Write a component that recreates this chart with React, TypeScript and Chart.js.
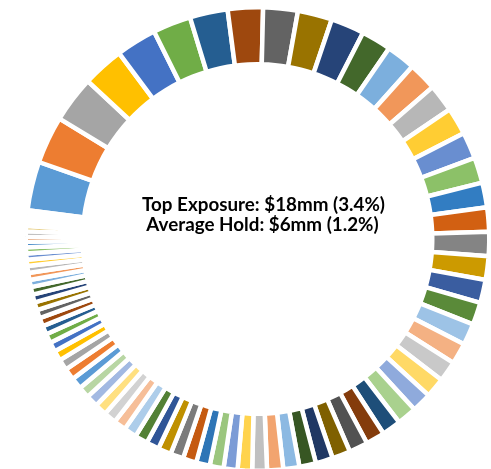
import React, { useEffect, useRef } from "react";
import { Chart, registerables } from "chart.js";

Chart.register(...registerables);

// Exposure per holding, $mm, sorted descending
const exposures: number[] = [
  18.0, 17.4, 17.0, 15.2, 14.9, 14.0, 13.9, 12.9, 12.7, 12.6,
  12.3, 11.0, 10.7, 10.4, 10.2, 10.0, 9.7, 9.4, 9.1, 8.9,
  8.9, 8.6, 8.5, 8.2, 7.9, 7.8, 7.5, 7.3, 7.2, 7.2,
  7.0, 6.9, 6.9, 6.7, 6.3, 6.1, 5.9, 5.9, 5.4, 5.3,
  5.1, 5.1, 5.0, 5.0, 4.8, 4.8, 4.7, 4.7, 4.7, 4.5,
  4.5, 4.4, 4.4, 4.2, 4.2, 4.2, 4.0, 3.7, 3.5, 3.4,
  3.2, 3.1, 3.1, 2.9, 2.9, 2.8, 2.6, 2.6, 2.5, 2.3,
  2.3, 2.2, 2.0, 1.9, 1.9, 1.9,
  1.3, 1.2, 0.9, 0.7, 0.6, 0.6, 0.4,
];

const holdings: string[] = exposures.map((_, i) => `Holding ${i + 1}`);

// Office-style series colour cycle
const palette: string[] = [
  "#5B9BD5", "#ED7D31", "#A5A5A5", "#FFC000", "#4472C4", "#70AD47",
  "#255E91", "#9E480E", "#636363", "#997300", "#264478", "#43682B",
  "#7CAFDD", "#F1975A", "#B7B7B7", "#FFCD33", "#698ED0", "#8CC168",
  "#327DC2", "#D26012", "#848484", "#CC9A00", "#3A5DA0", "#5A8A39",
  "#9DC3E6", "#F4B183", "#C9C9C9", "#FFD966", "#8FAADC", "#A9D18E",
  "#1E4E79", "#843C0C", "#525252", "#7F6000", "#203864", "#375623",
  "#8CB9E2", "#F2A46F", "#C0C0C0", "#FFD34D", "#7C9CD6", "#9BC67E",
  "#2E75B6", "#C55A11", "#7B7B7B", "#BF9000", "#2F5597", "#538135",
  "#ADCDEA", "#F6BE98", "#D2D2D2", "#FFE080", "#A2B9E2", "#B8D6A3",
];

const total = exposures.reduce((a, b) => a + b, 0);
const top = Math.max(...exposures);
const avg = total / exposures.length;
const centerLines: string[] = [
  `Top Exposure: $${Math.round(top)}mm (${((top / total) * 100).toFixed(1)}%)`,
  `Average Hold: $${Math.round(avg)}mm (${((avg / total) * 100).toFixed(1)}%)`,
];

const centerTextPlugin = {
  id: "centerText",
  afterDraw(chart: any) {
    const { ctx } = chart;
    const arc = chart.getDatasetMeta(0).data[0];
    if (!arc) return;
    const cx = arc.x;
    const cy = arc.y;
    ctx.save();
    ctx.fillStyle = "#000000";
    ctx.textAlign = "center";
    ctx.textBaseline = "alphabetic";
    let size = 20;
    ctx.font = `bold ${size}px Lato, "Open Sans", sans-serif`;
    const w = ctx.measureText(centerLines[0]).width;
    size = (size * 243) / w;
    ctx.font = `bold ${size}px Lato, "Open Sans", sans-serif`;
    ctx.fillText(centerLines[0], cx + 6, cy - 28);
    ctx.fillText(centerLines[1], cx + 5, cy - 8);
    ctx.restore();
  },
};

export default function App() {
  const ref = useRef<HTMLCanvasElement | null>(null);

  useEffect(() => {
    if (!ref.current) return;
    const chart = new Chart(ref.current, {
      type: "doughnut",
      data: {
        labels: holdings,
        datasets: [
          {
            data: exposures,
            backgroundColor: exposures.map((_, i) => palette[i % palette.length]),
            borderColor: "#ffffff",
            borderWidth: 4.5,
            hoverOffset: 0,
          },
        ],
      },
      options: {
        responsive: false,
        animation: false,
        events: [],
        rotation: -82.9,
        radius: 231.75,
        cutout: "75.4%",
        layout: { padding: { left: 24, right: 0, top: 9, bottom: 0 } },
        plugins: {
          legend: { display: false },
          tooltip: { enabled: false },
        },
      },
      plugins: [centerTextPlugin],
    });
    return () => chart.destroy();
  }, []);

  return (
    <div style={{ position: "fixed", left: 0, top: 0, width: 491, height: 469, background: "#fff" }}>
      <canvas ref={ref} width={491} height={469} style={{ width: 491, height: 469 }} />
    </div>
  );
}
